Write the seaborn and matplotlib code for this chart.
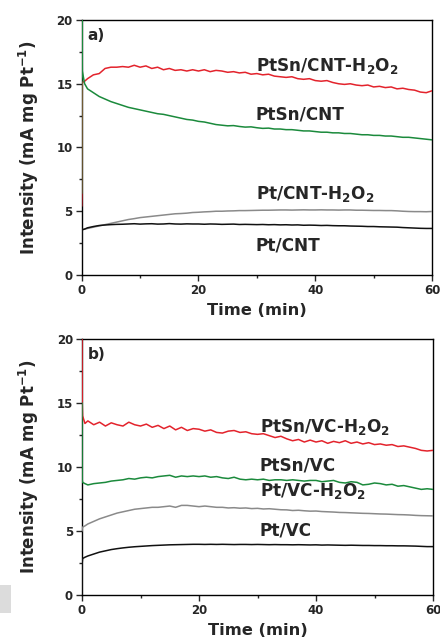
import numpy as np
import pandas as pd
import matplotlib
matplotlib.use("Agg")
import matplotlib.pyplot as plt
import seaborn as sns
from matplotlib.patches import Rectangle

sns.set_style("ticks")
plt.rcParams['font.family'] = ['DejaVu Sans']
plt.rcParams['font.weight'] = 'bold'
plt.rcParams['mathtext.fontset'] = 'custom'
plt.rcParams['mathtext.rm'] = 'DejaVu Sans:bold'
plt.rcParams['mathtext.it'] = 'DejaVu Sans:bold'
plt.rcParams['mathtext.bf'] = 'DejaVu Sans:bold'
plt.rcParams['mathtext.default'] = 'rm'

# ---------------- data ----------------
time = [0, 0.03, 0.1, 0.5] + list(range(1, 61))

# panel a
ptsn_cnt_h2o2 = [5.4, 6.4, 15.1, 15.2, 15.4, 15.7, 15.8, 16.2, 16.3, 16.3, 16.35, 16.3, 16.45,
                 16.3, 16.4, 16.2, 16.3, 16.1, 16.2, 16.05, 16.1, 16.0, 16.1,
                 16.0, 16.1, 15.95, 16.05, 16.0, 15.9, 15.95, 15.85, 15.9, 15.75,
                 15.8, 15.7, 15.75, 15.6, 15.55, 15.5, 15.55, 15.4, 15.35, 15.4,
                 15.25, 15.2, 15.25, 15.1, 15.0, 14.95, 15.0, 14.9, 14.85, 14.9,
                 14.75, 14.8, 14.7, 14.75, 14.6, 14.65, 14.55, 14.5, 14.35, 14.3, 14.45]
ptsn_cnt = [6.4, 20.5, 16.0, 15.0, 14.6, 14.3, 14.0, 13.8, 13.6, 13.45, 13.3, 13.15, 13.05,
            12.95, 12.85, 12.75, 12.65, 12.6, 12.5, 12.4, 12.3, 12.2, 12.15,
            12.05, 12.0, 11.9, 11.8, 11.75, 11.7, 11.72, 11.65, 11.6, 11.62,
            11.55, 11.5, 11.52, 11.45, 11.45, 11.4, 11.4, 11.35, 11.3, 11.3,
            11.25, 11.2, 11.2, 11.15, 11.15, 11.1, 11.1, 11.05, 11.0, 11.0,
            10.95, 10.95, 10.9, 10.9, 10.85, 10.8, 10.8, 10.75, 10.7, 10.65, 10.6]
pt_cnt_h2o2 = [3.45, 3.5, 3.55, 3.6, 3.65, 3.75, 3.85, 3.95, 4.05, 4.15, 4.25, 4.35, 4.42,
               4.5, 4.55, 4.6, 4.65, 4.7, 4.75, 4.8, 4.82, 4.85, 4.9,
               4.92, 4.95, 4.97, 5.0, 5.0, 5.02, 5.03, 5.05, 5.05, 5.06,
               5.07, 5.08, 5.08, 5.09, 5.1, 5.1, 5.09, 5.1, 5.11, 5.1,
               5.1, 5.11, 5.1, 5.1, 5.09, 5.1, 5.1, 5.08, 5.08, 5.07,
               5.06, 5.06, 5.05, 5.05, 5.03, 5.0, 4.98, 4.97, 4.97, 4.96, 4.98]
pt_cnt = [1.2, 3.0, 3.55, 3.6, 3.7, 3.8, 3.88, 3.92, 3.95, 3.97, 3.98, 4.0, 4.02,
          3.99, 4.01, 4.02, 3.99, 4.0, 4.03, 4.0, 3.99, 4.01, 4.0,
          4.0, 3.98, 4.0, 3.99, 3.97, 3.98, 3.99, 3.96, 3.97, 3.96,
          3.95, 3.96, 3.94, 3.95, 3.93, 3.94, 3.92, 3.93, 3.9, 3.91,
          3.9, 3.88, 3.89, 3.87, 3.86, 3.86, 3.84, 3.83, 3.82, 3.8,
          3.8, 3.78, 3.77, 3.76, 3.75, 3.72, 3.7, 3.68, 3.66, 3.65, 3.65]

# panel b
ptsn_vc_h2o2 = [20.5, 15.0, 14.0, 13.4, 13.6, 13.3, 13.5, 13.2, 13.45, 13.3, 13.2, 13.5, 13.3,
                13.2, 13.35, 13.1, 13.25, 13.0, 13.2, 12.9, 13.1, 12.85, 13.0,
                12.95, 12.8, 12.9, 12.7, 12.65, 12.8, 12.85, 12.7, 12.75, 12.6,
                12.55, 12.6, 12.45, 12.3, 12.4, 12.2, 12.05, 12.15, 11.95, 12.1,
                11.95, 12.05, 11.85, 12.0, 11.9, 12.05, 11.85, 11.95, 11.8, 11.9,
                11.75, 11.8, 11.7, 11.75, 11.6, 11.65, 11.55, 11.45, 11.3, 11.25, 11.3]
ptsn_vc = [15.0, 9.0, 8.8, 8.7, 8.6, 8.7, 8.75, 8.8, 8.9, 8.95, 9.0, 9.1, 9.05,
           9.15, 9.2, 9.15, 9.25, 9.3, 9.35, 9.2, 9.3, 9.25, 9.3,
           9.25, 9.3, 9.2, 9.25, 9.15, 9.1, 9.2, 9.05, 9.0, 9.05,
           9.0, 9.05, 8.95, 9.0, 9.0, 8.95, 9.0, 8.95, 8.9, 8.95,
           8.95, 8.85, 8.9, 8.95, 8.8, 8.75, 8.85, 8.8, 8.6, 8.65,
           8.75, 8.7, 8.6, 8.65, 8.5, 8.55, 8.45, 8.35, 8.25, 8.3, 8.25]
pt_vc_h2o2 = [5.0, 5.2, 5.3, 5.4, 5.55, 5.75, 5.95, 6.1, 6.25, 6.4, 6.5, 6.6, 6.7,
              6.75, 6.8, 6.85, 6.85, 6.9, 6.95, 6.85, 7.0, 7.0, 6.95,
              6.9, 6.95, 6.9, 6.85, 6.85, 6.8, 6.82, 6.78, 6.8, 6.75,
              6.77, 6.72, 6.74, 6.7, 6.66, 6.65, 6.6, 6.62, 6.58, 6.55,
              6.56, 6.52, 6.5, 6.48, 6.45, 6.44, 6.42, 6.4, 6.38, 6.37,
              6.35, 6.33, 6.32, 6.3, 6.28, 6.27, 6.25, 6.22, 6.2, 6.19, 6.18]
pt_vc = [0.0, 2.5, 2.85, 2.95, 3.05, 3.2, 3.35, 3.45, 3.55, 3.62, 3.68, 3.73, 3.77,
         3.8, 3.83, 3.86, 3.88, 3.9, 3.92, 3.93, 3.94, 3.95, 3.96,
         3.96, 3.95, 3.96, 3.95, 3.96, 3.95, 3.94, 3.95, 3.95, 3.94,
         3.95, 3.94, 3.93, 3.94, 3.93, 3.93, 3.92, 3.93, 3.92, 3.91,
         3.92, 3.9, 3.91, 3.9, 3.89, 3.88, 3.89, 3.88, 3.87, 3.87,
         3.86, 3.86, 3.85, 3.85, 3.84, 3.84, 3.83, 3.82, 3.8, 3.78, 3.78]

labels_a = ["PtSn/CNT-H$_2$O$_2$", "PtSn/CNT", "Pt/CNT-H$_2$O$_2$", "Pt/CNT"]
labels_b = ["PtSn/VC-H$_2$O$_2$", "PtSn/VC", "Pt/VC-H$_2$O$_2$", "Pt/VC"]
label_pos_a = [(29.8, 16.4), (29.8, 12.6), (29.8, 6.35), (29.8, 2.3)]
label_pos_b = [(30.4, 13.1), (30.4, 10.1), (30.4, 8.1), (30.4, 5.0)]

colors = ["#e3232c", "#1b8a3c", "#8a8a8a", "#111111"]

# ---------------- figure ----------------
fig = plt.figure(figsize=(4.4, 6.42), dpi=100)
ax_a = fig.add_axes([0.1857, 0.5717, 0.7962, 0.3971])
ax_b = fig.add_axes([0.1864, 0.0732, 0.7977, 0.3988])

def draw(ax, series, labels, lpos, tag):
    for vals, col in zip(series, colors):
        sns.lineplot(x=time, y=vals, ax=ax, color=col, linewidth=1.1,
                     estimator=None, zorder=3)
    for lab, (x, y) in zip(labels, lpos):
        ax.text(x, y, lab, fontsize=12.2, fontweight='bold', va='center', ha='left')
    ax.text(0.016, 0.97, tag, transform=ax.transAxes, fontsize=11,
            fontweight='bold', va='top', ha='left')
    ax.set_xlim(0, 60)
    ax.set_ylim(0, 20)
    ax.set_xticks([0, 20, 40, 60])
    ax.set_yticks([0, 5, 10, 15, 20])
    ax.set_xticks([10, 30, 50], minor=True)
    ax.set_yticks([2.5, 7.5, 12.5, 17.5], minor=True)
    ax.tick_params(which='major', direction='out', length=4, width=1.0,
                   labelsize=8.5, pad=2.5)
    ax.tick_params(which='minor', direction='out', length=2.5, width=1.0)
    for lab in ax.get_xticklabels() + ax.get_yticklabels():
        lab.set_fontweight('bold')
    for sp in ax.spines.values():
        sp.set_visible(True)
        sp.set_linewidth(1.0)
        sp.set_color('black')
    ax.set_xlabel("Time (min)", fontsize=11.7, fontweight='bold', labelpad=4)
    ax.set_ylabel("Intensity (mA mg Pt$^{-1}$)", fontsize=12, fontweight='bold',
                  labelpad=11)

draw(ax_a, [ptsn_cnt_h2o2, ptsn_cnt, pt_cnt_h2o2, pt_cnt], labels_a, label_pos_a, "a)")
draw(ax_b, [ptsn_vc_h2o2, ptsn_vc, pt_vc_h2o2, pt_vc], labels_b, label_pos_b, "b)")

fig.patches.append(Rectangle((0, 1 - 613 / 642), 11 / 440, 28 / 642,
                             transform=fig.transFigure, facecolor='#dcdcdc',
                             edgecolor='none', zorder=0))

fig.savefig("out.png", dpi=100)
